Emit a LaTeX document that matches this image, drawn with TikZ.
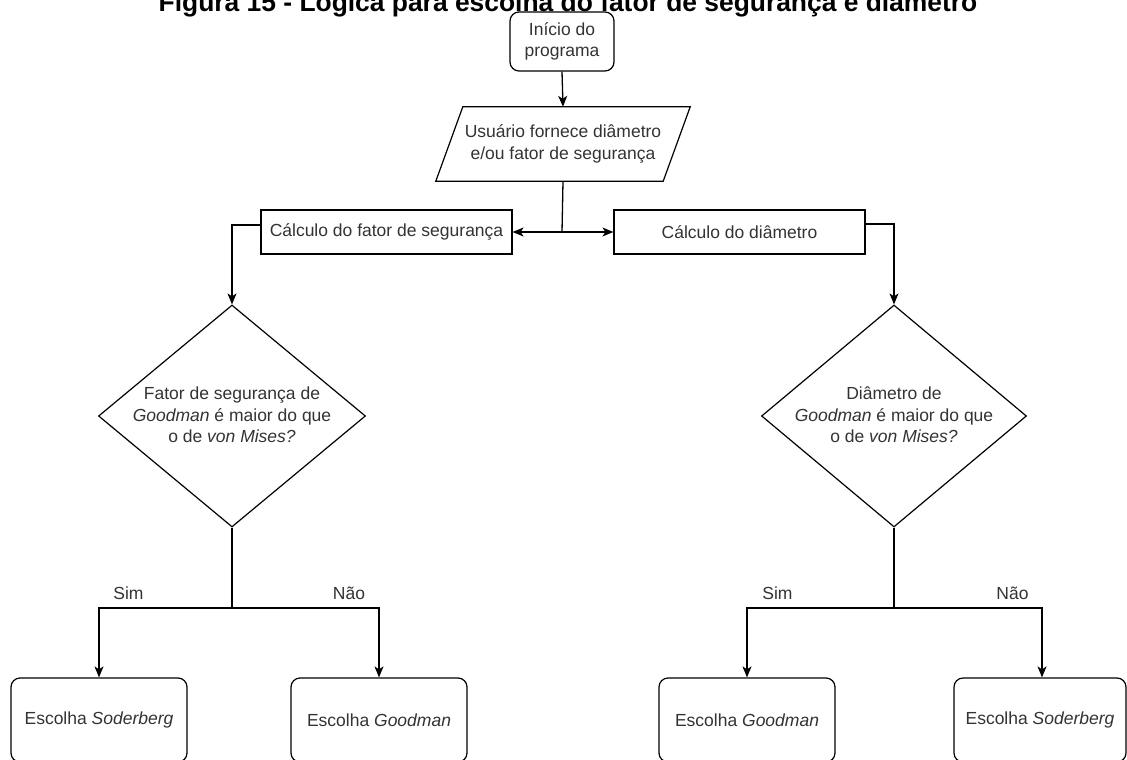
\documentclass[tikz,border=0pt]{standalone}
\usepackage{fontspec}
\setmainfont{Liberation Sans}
\usetikzlibrary{arrows.meta,shapes.geometric}
\definecolor{txt}{RGB}{51,51,51}
\begin{document}
\begin{tikzpicture}[x=1pt,y=-1pt,
  every node/.style={font=\fontsize{17.5}{21.5}\selectfont, text=txt},
  conn/.style={line width=1.3pt, draw=black},
  arr/.style={conn, -{Stealth[length=11pt,width=9pt,inset=3pt]}},
  roundbox/.style={draw=black, line width=1.2pt, rounded corners=9pt, align=center, inner sep=0pt},
  plainbox/.style={draw=black, line width=1.2pt, inner sep=0pt, minimum width=251pt, minimum height=44pt},
  decision/.style={draw=black, line width=1.2pt, shape=diamond, inner sep=0pt},
  lbl/.style={inner sep=0pt}
]
\useasboundingbox (0,0) rectangle (1127,760);
% title
\node[anchor=base, text=black, font=\fontsize{26.4}{30}\selectfont\bfseries, inner sep=0pt] (title) at (568,12) {Figura 15 - Lógica para escolha do fator de segurança e diâmetro};
% start
\node[roundbox, minimum width=104pt, minimum height=59pt] (start) at (562,41.5) {Início do\\programa};
% input parallelogram
\node[inner sep=0pt, minimum width=227pt, minimum height=74pt, align=center] (in) at (563,144) {Usuário fornece diâmetro\\e/ou fator de segurança};
\draw[line width=1.2pt] ([xshift=-13.5pt]in.south west) -- ([xshift=13.5pt]in.north west) -- ([xshift=13.5pt]in.north east) -- ([xshift=-13.5pt]in.south east) -- cycle;
% calculation boxes
\node[plainbox] (fs) at (386.5,232) {Cálculo do fator de segurança};
\node[plainbox] (dm) at (739.5,232) {Cálculo do diâmetro};
\coordinate (split) at (562,232);
% decisions
\node[decision, minimum width=267pt, minimum height=222pt] (d1) at (232,416) {};
\node[align=center, lbl] (d1t) at (232,415) {Fator de segurança de\\\textit{Goodman} é maior do que\\o de \textit{von Mises?}};
\node[decision, minimum width=265pt, minimum height=222pt] (d2) at (894,416) {};
\node[align=center, lbl] (d2t) at (894,415) {Diâmetro de\\\textit{Goodman} é maior do que\\o de \textit{von Mises?}};
% result boxes
\node[roundbox, minimum width=176pt, minimum height=84pt] (b1) at (99,720) {Escolha \textit{Soderberg}};
\node[roundbox, minimum width=176pt, minimum height=84pt] (b2) at (379,720) {Escolha \textit{Goodman}};
\node[roundbox, minimum width=176pt, minimum height=84pt] (b3) at (747,720) {Escolha \textit{Goodman}};
\node[roundbox, minimum width=172pt, minimum height=84pt] (b4) at (1040,720) {Escolha \textit{Soderberg}};
\coordinate (j1) at (232,608);
\coordinate (j2) at (894,608);
% labels
\node[lbl] (s1) at (128.5,593) {Sim};
\node[lbl] (n1) at (349,593) {Não};
\node[lbl] (s2) at (777.5,593) {Sim};
\node[lbl] (n2) at (1012.5,593) {Não};
% connectors
\draw[arr] (start.south) -- (in.north);
\draw[conn] (in.south) -- (split);
\draw[arr] (split) -- (fs.east);
\draw[arr] (split) -- (dm.west);
\draw[arr] ([yshift=7pt]fs.west) -| (d1.north);
\draw[arr] ([yshift=8pt]dm.east) -| (d2.north);
\draw[conn] (d1.south) -- (j1);
\draw[arr] (j1) -| (b1.north);
\draw[arr] (j1) -| (b2.north);
\draw[conn] (d2.south) -- (j2);
\draw[arr] (j2) -| ([xshift=2pt]b4.north);
\draw[arr] (j2) -| (b3.north);
\end{tikzpicture}
\end{document}
